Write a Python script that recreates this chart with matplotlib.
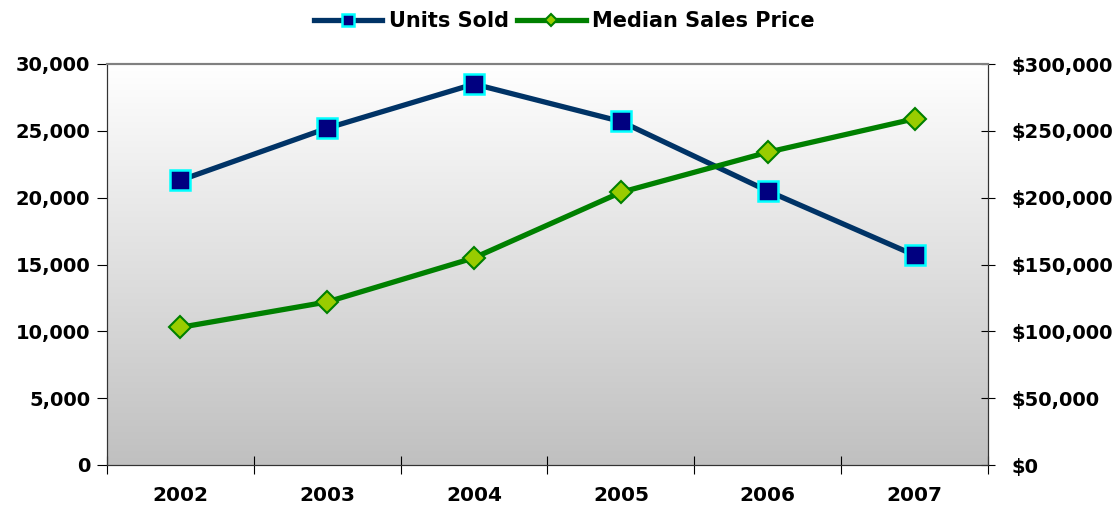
import matplotlib.pyplot as plt
import numpy as np
from matplotlib.colors import LinearSegmentedColormap
from matplotlib.ticker import FuncFormatter

years = ["2002", "2003", "2004", "2005", "2006", "2007"]
units_sold = [21300, 25200, 28500, 25700, 20500, 15700]
median_price = [103000, 122000, 155000, 204000, 234000, 259000]

plt.rcParams['font.family'] = ['DejaVu Sans']
plt.rcParams['font.weight'] = 'bold'

fig = plt.figure(figsize=(11.17, 5.08), dpi=100)
ax = fig.add_axes([107 / 1117, 1 - 465 / 508, (988 - 107) / 1117, (465 - 64) / 508])
ax2 = ax.twinx()

x = np.arange(len(years))
ax.set_xlim(-0.5, len(years) - 0.5)
ax.set_ylim(0, 30000)
ax2.set_ylim(0, 300000)

# gradient background, white at top to grey at bottom
grad = np.linspace(0, 1, 256).reshape(-1, 1)
bg = LinearSegmentedColormap.from_list("bg", ["#c0c0c0", "#ffffff"])
ax.imshow(grad, cmap=bg, aspect='auto', origin='lower',
          extent=(-0.5, len(years) - 0.5, 0, 30000), zorder=0)

l1, = ax.plot(x, units_sold, color='#003366', lw=3.8, marker='s', ms=14,
              markerfacecolor='#000080', markeredgecolor='#00ffff', mew=1.8,
              label='Units Sold', zorder=3)
l2, = ax2.plot(x, median_price, color='#008000', lw=3.8, marker='D', ms=11,
               markerfacecolor='#99cc00', markeredgecolor='#008000', mew=1.5,
               label='Median Sales Price', zorder=3)

ax.set_xticks(x)
ax.set_xticklabels(years)
ax.set_xticks(np.arange(-0.5, len(years)), minor=True)
ax.tick_params(axis='x', which='major', length=0, pad=15, labelsize=14.5)
ax.tick_params(axis='x', which='minor', length=13, direction='inout', width=0.8)

ax.set_yticks(np.arange(0, 30001, 5000))
ax.yaxis.set_major_formatter(FuncFormatter(lambda v, p: f"{v:,.0f}"))
ax.tick_params(axis='y', length=7, direction='out', labelsize=14, width=0.8, pad=5)

ax2.set_yticks(np.arange(0, 300001, 50000))
ax2.yaxis.set_major_formatter(FuncFormatter(lambda v, p: f"${v:,.0f}"))
ax2.tick_params(axis='y', length=10, direction='inout', labelsize=14, width=0.8, pad=12)

for a in (ax, ax2):
    a.spines['top'].set_color('#808080')
    a.spines['top'].set_linewidth(1.5)
    a.spines['left'].set_color('#333333')
    a.spines['right'].set_color('#333333')
    a.spines['bottom'].set_color('#333333')
    a.patch.set_visible(False)

for lab in ax.get_xticklabels() + ax.get_yticklabels() + ax2.get_yticklabels():
    lab.set_fontweight('bold')

fig.legend(handles=[l1, l2], loc='upper center', bbox_to_anchor=(0.505, 1.015),
           ncol=2, frameon=False, prop={'size': 15, 'weight': 'bold'},
           handlelength=3.3, columnspacing=0.4, handletextpad=0.3, markerscale=0.6)

fig.savefig("out.png", dpi=100)
